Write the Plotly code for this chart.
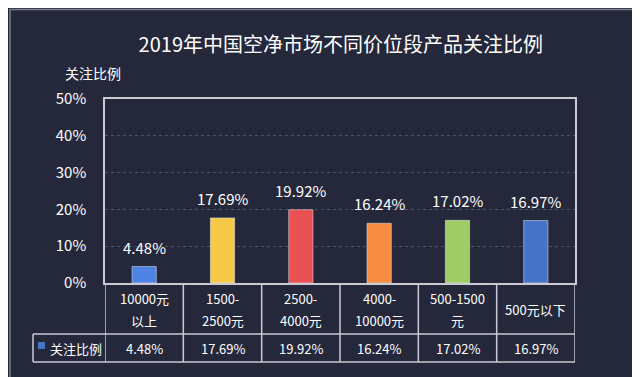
import plotly.graph_objects as go

cat_line1 = ["10000元", "1500-", "2500-", "4000-", "500-1500", "500元以下"]
cat_line2 = ["以上", "2500元", "4000元", "10000元", "元", ""]
values = [4.48, 17.69, 19.92, 16.24, 17.02, 16.97]
bar_colors = ["#4F83E3", "#F7C948", "#EB5052", "#F68C42", "#9FCC66", "#4674C8"]
series_name = "关注比例"
y_ticks = [0, 10, 20, 30, 40, 50]
y_tick_text = ["0%", "10%", "20%", "30%", "40%", "50%"]

W, H = 640, 377
L, R, T, B = 97, 567, 91, 275
BG = "#25273B"
LINE = "#C9CAD3"
FONT = "Noto Sans CJK SC, Microsoft YaHei, sans-serif"

def px(x):
    return (x - L) / (R - L)

def py(y):
    return (B - y) / (B - T)

n = len(values)
xs = list(range(n))

fig = go.Figure()
fig.add_trace(go.Bar(
    x=xs, y=values, marker_color=bar_colors, width=0.31,
    showlegend=False, name=series_name, hoverinfo="skip",
))

shapes = []
row1_bottom = 326
row2_bottom = 354
table_left = 25
for yy in [row1_bottom, row2_bottom]:
    shapes.append(dict(type="line", xref="paper", yref="paper", x0=px(table_left), x1=px(R),
                       y0=py(yy), y1=py(yy), line=dict(color=LINE, width=1.5)))
for i in range(n + 1):
    shapes.append(dict(type="line", xref="x", yref="paper", x0=i - 0.5, x1=i - 0.5,
                       y0=0, y1=py(row2_bottom), line=dict(color=LINE, width=1.5)))
shapes.append(dict(type="line", xref="paper", yref="paper", x0=px(table_left), x1=px(table_left),
                   y0=py(row1_bottom), y1=py(row2_bottom), line=dict(color=LINE, width=1.5)))
shapes.append(dict(type="rect", xref="paper", yref="paper", x0=px(30), x1=px(37),
                   y0=py(341), y1=py(334), fillcolor="#4674C8", line=dict(width=0)))
shapes.append(dict(type="rect", xref="paper", yref="paper", x0=px(2), x1=px(637.5),
                   y0=py(375), y1=py(1.5), line=dict(color="#7E808D", width=1.5)))

annotations = []
for i, v in enumerate(values):
    annotations.append(dict(x=i, y=v, xref="x", yref="y", text=f"{v:.2f}%", showarrow=False,
                            font=dict(color="white", size=15, family=FONT),
                            xanchor="center", yanchor="bottom", yshift=7))
    if cat_line2[i]:
        annotations.append(dict(x=i, y=py(290), xref="x", yref="paper", text=cat_line1[i],
                                showarrow=False, font=dict(color="white", size=13, family=FONT),
                                xanchor="center", yanchor="middle"))
        annotations.append(dict(x=i, y=py(312), xref="x", yref="paper", text=cat_line2[i],
                                showarrow=False, font=dict(color="white", size=13, family=FONT),
                                xanchor="center", yanchor="middle"))
    else:
        annotations.append(dict(x=i, y=py(301), xref="x", yref="paper", text=cat_line1[i],
                                showarrow=False, font=dict(color="white", size=13, family=FONT),
                                xanchor="center", yanchor="middle"))
    annotations.append(dict(x=i, y=py(340), xref="x", yref="paper", text=f"{v:.2f}%",
                            showarrow=False, font=dict(color="white", size=13, family=FONT),
                            xanchor="center", yanchor="middle"))
annotations.append(dict(x=px(40), y=py(340), xref="paper", yref="paper",
                        text=series_name, showarrow=False, font=dict(color="white", size=13, family=FONT),
                        xanchor="left", yanchor="middle"))
annotations.append(dict(x=px(85), y=py(65), xref="paper", yref="paper", text=series_name,
                        showarrow=False, font=dict(color="white", size=14, family=FONT),
                        xanchor="center", yanchor="middle"))

fig.update_layout(
    width=W, height=H,
    margin=dict(l=L, r=W - R, t=T, b=H - B),
    paper_bgcolor=BG, plot_bgcolor=BG,
    title=dict(text="2019年中国空净市场不同价位段产品关注比例", x=0.52, xanchor="center",
               y=1 - 37 / H, yanchor="middle", font=dict(color="white", size=20, family=FONT)),
    xaxis=dict(range=[-0.5, n - 0.5], showticklabels=False, showgrid=False, zeroline=False,
               showline=True, mirror=True, linecolor=LINE, linewidth=1.5, fixedrange=True),
    yaxis=dict(range=[0, 50], tickvals=y_ticks, ticktext=y_tick_text, showgrid=True,
               gridcolor="#50526A", griddash="dot", gridwidth=1, zeroline=False,
               showline=True, mirror=True, linecolor=LINE, linewidth=1.5,
               tickfont=dict(color="white", size=15, family=FONT), ticklabelstandoff=14),
    shapes=shapes, annotations=annotations,
)

fig.write_html("out.html")
